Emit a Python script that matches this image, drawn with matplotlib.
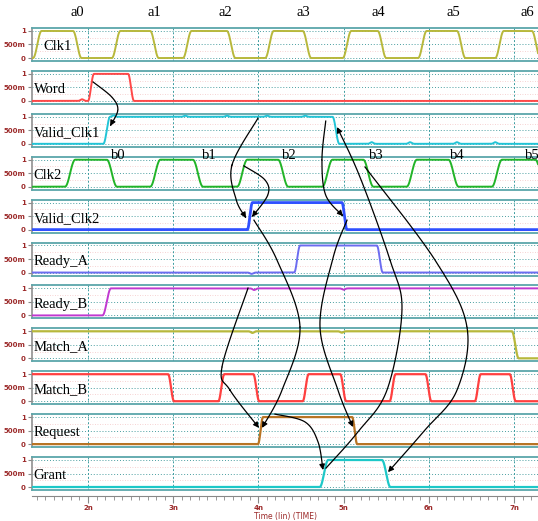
import numpy as np
import matplotlib.pyplot as plt
from matplotlib.lines import Line2D
from matplotlib.patches import FancyArrowPatch

# signals, top to bottom
names = ["Clk1", "Word", "Valid_Clk1", "Clk2", "Valid_Clk2", "Ready_A",
         "Ready_B", "Match_A", "Match_B", "Request", "Grant"]
colors = ["#b8b83c", "#ff4848", "#22c4d6", "#22b428", "#3050ff", "#6c6cf0",
          "#c038d0", "#b8b83c", "#ff4040", "#b87424", "#1ec8c8"]
widths = [1.4, 1.4, 1.4, 1.4, 2.0, 1.4, 1.4, 1.6, 1.6, 1.6, 1.6]

# level at start of the window
start_level = [0, 0, 0, 0, 0, 0, 0, 1, 1, 0, 0]

# start of each rising / falling transition (ns)
rises = [
    [1.355, 2.28, 3.115, 4.08, 4.99, 5.875, 6.78],   # Clk1
    [2.00],                                          # Word
    [2.18],                                          # Valid_Clk1
    [1.73, 2.73, 3.75, 4.75, 5.74, 6.74],            # Clk2
    [3.87],                                          # Valid_Clk2
    [4.42],                                          # Ready_A
    [2.17],                                          # Ready_B
    [],                                              # Match_A
    [3.53, 4.52, 5.54, 6.54],                        # Match_B
    [3.995],                                         # Request
    [4.72],                                          # Grant
]
falls = [
    [1.824, 2.73, 3.63, 4.52, 5.40, 6.33, 7.21],
    [2.47],
    [4.87],
    [2.22, 3.23, 4.23, 5.23, 6.23, 7.25],
    [4.98],
    [5.39],
    [],
    [6.975],
    [2.94, 3.94, 4.96, 5.96, 6.95],
    [5.10],
    [5.45],
]
ramp = [0.10, 0.07, 0.08, 0.12, 0.06, 0.07, 0.10, 0.08, 0.07, 0.06, 0.10]

# small glitches (time ns, amplitude)
glitches = {
    "Word": [(1.93, 0.06)],
    "Valid_Clk1": [(2.30, 0.05), (3.14, 0.04), (3.63, 0.04), (4.10, 0.04),
                   (4.55, 0.04), (5.33, 0.06), (5.78, 0.06), (6.33, 0.06),
                   (6.78, 0.06)],
    "Ready_A": [(3.92, -0.05)],
    "Ready_B": [(3.95, -0.06), (5.00, -0.05)],
    "Match_A": [(3.93, -0.06), (4.98, -0.05)],
}

a_times = [1.871, 2.775, 3.608, 4.523, 5.404, 6.284, 7.153]
b_times = [2.35, 3.42, 4.36, 5.39, 6.34, 7.21]

# causality arrows: points (time ns, panel index, level)
arrows = [
    [(2.06, 1, 0.70), (2.28, 1, 0.14), (2.35, 2, 1.25), (2.26, 2, 0.66)],
    [(3.995, 2, 0.95), (3.69, 3, 0.80), (3.74, 4, 1.10), (3.855, 4, 0.43)],
    [(3.83, 3, 0.77), (4.077, 3, 0.25), (4.11, 4, 1.28), (3.925, 4, 0.47)],
    [(4.79, 2, 0.84), (4.746, 3, 0.99), (4.79, 3, -0.31), (4.993, 4, 0.50)],
    [(3.878, 6, 1.01), (3.573, 8, 1.27), (3.667, 8, 0.41), (4.007, 9, 0.60)],
    [(3.948, 4, 0.35), (4.218, 5, 0.46), (4.488, 7, 1.16), (4.277, 8, 0.41),
     (4.042, 9, 0.60)],
    [(4.195, 9, 1.11), (4.547, 9, 0.82), (4.70, 9, 0.08), (4.758, 10, 0.63)],
    [(5.04, 4, 0.35), (4.876, 5, 0.54), (4.723, 7, 1.16), (4.934, 8, 0.41),
     (5.11, 9, 0.63)],
    [(4.793, 10, 0.70), (5.157, 9, 0.41), (5.509, 8, 0.41), (5.685, 6, 0.20),
     (5.545, 5, 0.46), (5.192, 3, 0.36), (4.923, 2, 0.62)],
    [(5.251, 3, 0.73), (6.073, 5, 0.46), (6.448, 7, 1.16), (6.331, 8, 0.41),
     (5.955, 9, 0.52), (5.521, 10, 0.55)],
]

W, H = 538, 521
x0 = 32
xlim = (1.3427, 7.2817)
ylim = (-0.11, 1.11)
tick_col = "#9c2a2a"


def build(t, level0, up, dn, tr):
    y = np.full_like(t, float(level0))
    edges = sorted([(e, 1.0) for e in up] + [(e, 0.0) for e in dn])
    cur = float(level0)
    for te, new in edges:
        u = np.clip((t - te) / tr, 0, 1)
        s = 0.5 - 0.5 * np.cos(np.pi * u)
        m = t >= te
        y[m] = cur + (new - cur) * s[m]
        cur = new
    return y


def catmull(p, n=30):
    p = np.vstack([p[0], p, p[-1]])
    out = []
    s = np.linspace(0, 1, n)[:, None]
    for k in range(1, len(p) - 2):
        p0, p1, p2, p3 = p[k - 1], p[k], p[k + 1], p[k + 2]
        out.append(0.5 * (2 * p1 + (-p0 + p2) * s
                          + (2 * p0 - 5 * p1 + 4 * p2 - p3) * s ** 2
                          + (-p0 + 3 * p1 - 3 * p2 + p3) * s ** 3))
    return np.vstack(out)


fig = plt.figure(figsize=(W / 100, H / 100), dpi=100)
t = np.linspace(xlim[0], xlim[1], 4000)

axes = []
for i, name in enumerate(names):
    top = 28 + 42.9 * i
    ax = fig.add_axes([x0 / W, 1 - (top + 33) / H, 1 - x0 / W, 33 / H])
    ax.set_xlim(xlim)
    ax.set_ylim(ylim)
    for lv in (0.25, 0.75):
        ax.axhline(lv, color="#f4c4c4", ls=(0, (1, 2)), lw=0.6, zorder=0)
    for lv in (0, 0.5, 1):
        ax.axhline(lv, color="#4a9ea0", ls=(0, (1, 2)), lw=0.7, zorder=0)
    for tv in range(2, 8):
        ax.axvline(tv, color="#3c9ca0", ls=(0, (2, 2)), lw=0.7, zorder=0)

    y = build(t, start_level[i], rises[i], falls[i], ramp[i])
    for tg, amp in glitches.get(name, []):
        y = y + amp * np.exp(-((t - tg) / 0.025) ** 2)
    ax.plot(t, y, color=colors[i], lw=widths[i], zorder=3)

    ax.set_xticks([])
    ax.set_yticks([0, 0.5, 1])
    ax.set_yticklabels(["0", "500m", "1"])
    ax.tick_params(axis="y", length=3, color="#888888", pad=1.5,
                   labelsize=5, labelcolor=tick_col)
    for lab in ax.get_yticklabels():
        lab.set_fontweight("bold")
    for s in ("top", "bottom"):
        ax.spines[s].set_color("#5aa6aa")
        ax.spines[s].set_linewidth(1.3)
    ax.spines["left"].set_color("#909090")
    ax.spines["left"].set_linewidth(1.2)
    ax.spines["right"].set_visible(False)

    # signal name inside the panel
    lx = 0.022 if name == "Clk1" else 0.003
    ax.text(lx, 0.42, name, transform=ax.get_yaxis_transform(),
            fontsize=10.5, family="Liberation Serif", va="center", ha="left",
            zorder=5)
    axes.append(ax)

for k, ta in enumerate(a_times):
    axes[0].text(ta, 1.70, "a%d" % k, fontsize=10.5, family="Liberation Serif",
                 ha="center", va="center", clip_on=False)
for k, tb in enumerate(b_times):
    axes[3].text(tb, 1.17, "b%d" % k, fontsize=10.5, family="Liberation Serif",
                 ha="center", va="center", clip_on=False, zorder=6)

# time axis
axt = fig.add_axes([x0 / W, 1 - 496 / H, 1 - x0 / W, 0.0001])
axt.set_xlim(xlim)
axt.set_yticks([])
for s in ("top", "left", "right"):
    axt.spines[s].set_visible(False)
axt.spines["bottom"].set_color("#888888")
axt.set_xticks(range(2, 8))
axt.set_xticklabels(["%dn" % v for v in range(2, 8)])
axt.set_xticks(np.arange(1.4, 7.3, 0.1), minor=True)
axt.tick_params(which="major", length=5, color="#888888", labelsize=5,
                labelcolor=tick_col, pad=1.5)
axt.tick_params(which="minor", length=3, color="#888888")
for lab in axt.get_xticklabels():
    lab.set_fontweight("bold")
axt.set_xlabel("Time (lin) (TIME)", fontsize=5.5, color=tick_col, labelpad=0.5)

# arrows
inv = fig.transFigure.inverted()
for arr in arrows:
    pts = np.array([axes[p].transData.transform((tt, lv)) for tt, p, lv in arr])
    curve = inv.transform(catmull(pts))
    fig.add_artist(Line2D(curve[:-3, 0], curve[:-3, 1], color="black", lw=0.9,
                          transform=fig.transFigure, zorder=10))
    fig.add_artist(FancyArrowPatch(posA=tuple(curve[-4]), posB=tuple(curve[-1]),
                                   arrowstyle="-|>", mutation_scale=8, lw=0.9,
                                   color="black", shrinkA=0, shrinkB=0,
                                   transform=fig.transFigure, zorder=10))

fig.savefig("out.png", dpi=100)
